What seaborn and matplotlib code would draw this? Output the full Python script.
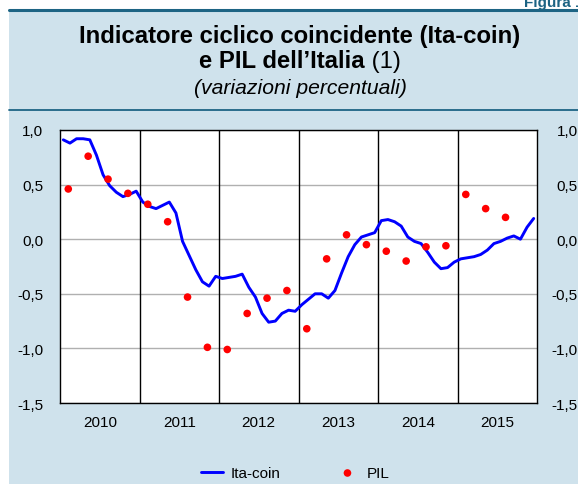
# %%
"""
Ita-coin e PIL dell'Italia, variazioni percentuali.
"""

import matplotlib.pyplot as plt
from matplotlib.lines import Line2D
from matplotlib.patches import Rectangle
import seaborn as sns
import pandas as pd

# Ita-coin, mensile (gen 2010 - dic 2015)
ita_coin = [
    0.91, 0.88, 0.92, 0.92, 0.91, 0.77, 0.59, 0.49, 0.43, 0.39, 0.41, 0.44,
    0.34, 0.30, 0.28, 0.31, 0.34, 0.24, -0.02, -0.15, -0.28, -0.39, -0.43, -0.34,
    -0.36, -0.35, -0.34, -0.32, -0.44, -0.53, -0.68, -0.76, -0.75, -0.68, -0.65, -0.66,
    -0.60, -0.55, -0.50, -0.50, -0.54, -0.47, -0.31, -0.16, -0.05, 0.02, 0.04, 0.06,
    0.17, 0.18, 0.16, 0.12, 0.02, -0.02, -0.04, -0.12, -0.21, -0.27, -0.26, -0.21,
    -0.18, -0.17, -0.16, -0.14, -0.10, -0.04, -0.02, 0.01, 0.03, 0.00, 0.11, 0.19,
]
# PIL, trimestrale (2010T1 - 2015T3)
pil = [
    0.46, 0.76, 0.55, 0.42,
    0.32, 0.16, -0.53, -0.99,
    -1.01, -0.68, -0.54, -0.47,
    -0.82, -0.18, 0.04, -0.05,
    -0.11, -0.20, -0.07, -0.06,
    0.41, 0.28, 0.20,
]
years = [2010, 2011, 2012, 2013, 2014, 2015]
y_ticks = [-1.5, -1.0, -0.5, 0.0, 0.5, 1.0]

W, H = 578, 485
start = years[0]
end = years[-1] + 1

df_coin = pd.DataFrame({
    "t": [start + (i + 0.5) / 12 for i in range(len(ita_coin))],
    "val": ita_coin,
})
df_pil = pd.DataFrame({
    "t": [start + i / 4 + 1.25 / 12 for i in range(len(pil))],
    "val": pil,
})

sns.set_style("white")
plt.rcParams["font.family"] = ["Liberation Sans", "DejaVu Sans"]
plt.rcParams["text.color"] = "black"

bg = "#cfe2ec"
teal = "#1d6484"

fig = plt.figure(figsize=(W / 100, H / 100), dpi=100)
fig.patch.set_facecolor("white")
fig.patches.append(Rectangle((9 / W, 0), 1, 1 - 10 / H, transform=fig.transFigure,
                             facecolor=bg, edgecolor="none", zorder=-5))
fig.add_artist(Line2D([9 / W, 1], [1 - 10.5 / H] * 2, color=teal, lw=2.2, zorder=-4))
fig.add_artist(Line2D([9 / W, 1], [1 - 111 / H] * 2, color=teal, lw=1.3, zorder=-4))

fig.text(584 / W, 1 - 7 / H, "Figura 1", ha="right", va="baseline",
         fontsize=11, fontweight="bold", color=teal)

# titolo
cx = 300 / W
fig.text(cx, 1 - 37 / H, "Indicatore ciclico coincidente (Ita-coin)",
         ha="center", va="center", fontsize=17.2, fontweight="bold")
t_bold = fig.text(cx, 1 - 62 / H, "e PIL dell\u2019Italia", ha="right", va="center",
                  fontsize=17.2, fontweight="bold")
t_norm = fig.text(cx, 1 - 62 / H, " (1)", ha="left", va="center", fontsize=17.2)
fig.text(cx, 1 - 88 / H, "(variazioni percentuali)", ha="center", va="center",
         fontsize=15.2, style="italic")

r = fig.canvas.get_renderer()
wb = t_bold.get_window_extent(r).width
wn = t_norm.get_window_extent(r).width
shift = (wb - wn) / 2 / W
t_bold.set_x(cx + shift)
t_norm.set_x(cx + shift)

ax = fig.add_axes([60 / W, (H - 404) / H, (537 - 60) / W, (404 - 131) / H])
ax.set_facecolor("white")

sns.lineplot(data=df_coin, x="t", y="val", ax=ax, color="#0000ff", lw=2.1,
             label="Ita-coin", zorder=4)
sns.scatterplot(data=df_pil, x="t", y="val", ax=ax, color="#ff0000", s=30,
                edgecolor="none", label="PIL", zorder=5)

ax.set_xlim(start, end)
ax.set_ylim(y_ticks[0], y_ticks[-1])
ax.set_xlabel("")
ax.set_ylabel("")

# griglia orizzontale e separatori annuali
ax.set_yticks(y_ticks)
ax.set_yticklabels([f"{v:.1f}".replace(".", ",") for v in y_ticks])
ax.yaxis.grid(True, color="#b0b0b0", lw=1)
ax.vlines(years[1:], y_ticks[0], y_ticks[-1], color="black", lw=1, zorder=3)
ax.tick_params(axis="y", length=0, labelsize=11, pad=12,
               labelright=True, colors="black")
for tk in ax.yaxis.get_major_ticks():
    tk.label2.set_horizontalalignment("right")
    tk.label2.set_x(1 + 24 / (537 - 60))

ax.set_xticks([y + 0.5 for y in years])
ax.set_xticklabels([str(y) for y in years])
ax.set_xticks([start + m / 12 for m in range(12 * len(years) + 1)], minor=True)
ax.tick_params(axis="x", which="major", direction="in", length=7, width=1,
               labelsize=11, pad=9, colors="black")
ax.tick_params(axis="x", which="minor", direction="in", length=4, width=0.8,
               colors="black")

for s in ax.spines.values():
    s.set_visible(True)
    s.set_color("black")
    s.set_linewidth(1)

handles, labels = ax.get_legend_handles_labels()
ax.get_legend().remove()
fig.legend(handles, labels, loc="center", bbox_to_anchor=(295 / W, 11 / H),
           ncol=2, frameon=False, fontsize=11, handlelength=1.5,
           handletextpad=0.5, columnspacing=3.6)

fig.savefig("out.png", dpi=100, facecolor=fig.get_facecolor())
